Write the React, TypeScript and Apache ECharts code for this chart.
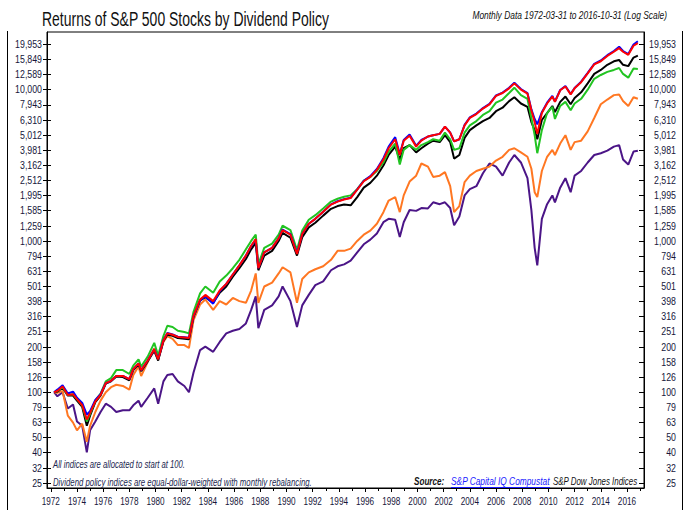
import React, { useEffect, useRef } from "react";
import * as echarts from "echarts";

// Month-end dates as decimal years (sampled from the monthly series)
const dates = [
  1972.25, 1972.5, 1972.9, 1973.3, 1973.7, 1974.0, 1974.4, 1974.75, 1975.0, 1975.4,
  1975.8, 1976.2, 1976.6, 1977.0, 1977.5, 1978.0, 1978.3, 1978.7, 1978.9, 1979.4,
  1979.9, 1980.2, 1980.6, 1980.9, 1981.3, 1981.7, 1982.2, 1982.55, 1982.9, 1983.4,
  1983.8, 1984.4, 1984.9, 1985.4, 1985.9, 1986.4, 1986.9, 1987.3, 1987.65, 1987.85,
  1988.3, 1988.9, 1989.4, 1989.7, 1990.3, 1990.8, 1991.2, 1991.7, 1992.2, 1992.8,
  1993.4, 1993.9, 1994.4, 1994.9, 1995.4, 1995.9, 1996.4, 1996.9, 1997.4, 1997.8,
  1998.3, 1998.65, 1998.95, 1999.4, 1999.9, 2000.3, 2000.8, 2001.2, 2001.7, 2002.1,
  2002.5, 2002.8, 2003.2, 2003.6, 2004.0, 2004.5, 2005.0, 2005.5, 2006.0, 2006.5,
  2007.0, 2007.4, 2007.9, 2008.4, 2008.7, 2008.95, 2009.15, 2009.5, 2009.9, 2010.3,
  2010.5, 2010.9, 2011.3, 2011.7, 2012.0, 2012.5, 2013.0, 2013.5, 2014.0, 2014.5,
  2015.0, 2015.4, 2015.7, 2016.1, 2016.5, 2016.83,
];

const growersInitiators = [
  100, 102, 108, 96, 97, 90, 82, 64, 72, 88,
  98, 118, 124, 140, 140, 132, 150, 165, 148, 172,
  212, 175, 235, 275, 270, 255, 250, 245, 340, 450,
  500, 455, 540, 590, 660, 750, 880, 1000, 1100, 700,
  900, 960, 1100, 1260, 1180, 870, 1170, 1380, 1480, 1640,
  1820, 1900, 1960, 2000, 2200, 2500, 2650, 2900, 3300, 3900,
  4400, 3200, 4000, 4300, 4000, 4300, 4500, 4700, 4600, 5200,
  4700, 4000, 4100, 5200, 5800, 6200, 6800, 7200, 8200, 8600,
  9500, 10300, 9200, 8700, 6500, 5000, 3800, 5400, 7000, 7700,
  6400, 7800, 8300, 7300, 8100, 8700, 10000, 11800, 12500, 13100,
  13500, 13900, 12700, 12000, 13800, 13700,
];

const equalWeighted = [
  100, 104, 111, 98, 101, 92, 85, 71, 75, 89,
  97, 115, 119, 128, 128, 122, 142, 155, 140, 162,
  192, 166, 221, 246, 241, 233, 231, 229, 318, 405,
  430, 385, 465, 520, 600, 690, 800, 925, 1020, 660,
  840, 900, 1040, 1190, 1110, 830, 1110, 1300, 1400, 1560,
  1745, 1830, 1890, 1930, 2190, 2500, 2680, 2990, 3520, 4200,
  4850, 3750, 4650, 5050, 4250, 4650, 4900, 5000, 5100, 5700,
  5200, 4550, 4700, 5850, 6550, 6950, 7550, 8050, 9150, 9550,
  10300, 11100, 10100, 9500, 7400, 6400, 5900, 7100, 8200, 9100,
  8350, 9950, 10550, 9350, 10250, 11300, 12900, 14800, 15600, 16900,
  18000, 19200, 18000, 17200, 19900, 20900,
];

const dividendPayers = [
  100, 102, 109, 96, 97, 90, 82, 66, 73, 87,
  96, 115, 119, 128, 128, 122, 142, 155, 140, 162,
  192, 165, 220, 245, 240, 232, 230, 228, 320, 410,
  440, 400, 470, 520, 600, 690, 800, 930, 1030, 660,
  840, 900, 1040, 1180, 1100, 820, 1110, 1300, 1400, 1560,
  1740, 1820, 1880, 1920, 2180, 2480, 2650, 2950, 3450, 4100,
  4700, 3700, 4600, 4950, 4200, 4600, 4900, 5000, 5100, 5700,
  5200, 4550, 4700, 5800, 6500, 6900, 7500, 8000, 9100, 9500,
  10200, 11000, 10000, 9400, 7300, 6100, 5100, 7000, 8100, 9000,
  8300, 9900, 10500, 9300, 10200, 11200, 12800, 14700, 15400, 16700,
  17800, 18800, 17800, 17000, 19500, 20300,
];

const noChange = [
  100, 101, 107, 95, 95, 88, 80, 60, 70, 86,
  95, 114, 118, 127, 126, 120, 140, 153, 138, 160,
  188, 162, 218, 240, 236, 228, 226, 224, 315, 405,
  425, 390, 455, 500, 580, 660, 760, 880, 970, 640,
  800, 860, 1000, 1130, 1050, 800, 1060, 1230, 1320, 1470,
  1630, 1700, 1740, 1720, 1950, 2250, 2420, 2700, 3150, 3700,
  4200, 3450, 4100, 4300, 3850, 4100, 4400, 4600, 4500, 5000,
  4500, 3500, 3700, 4800, 5400, 5800, 6200, 6500, 7200, 7600,
  8400, 8900, 8100, 7700, 6100, 5400, 4700, 6300, 7000, 7800,
  7100, 8300, 9000, 8000, 8800, 9600, 11000, 12700, 13500, 14600,
  15400, 15700, 14600, 14300, 16300, 16800,
];

const nonPayers = [
  100, 99, 102, 70, 63, 56, 62, 47, 60, 74,
  88, 100, 108, 112, 110, 104, 130, 148, 128, 158,
  195, 165, 215, 235, 225, 205, 205, 196, 300, 380,
  410, 350, 400, 380, 420, 400, 390, 470, 610, 390,
  500, 530, 610, 670, 620, 390, 560, 620, 650, 680,
  750, 860, 860, 890, 1000, 1100, 1170, 1300, 1550, 1850,
  1950, 1550, 2000, 2470, 2700, 3250, 3100, 2650, 2700, 2850,
  2300, 1550, 1700, 2450, 2700, 2900, 3000, 3100, 3400, 3600,
  4000, 4100, 3850, 3600, 3000, 2100, 1950, 2900, 3600, 4000,
  3700, 4400, 5000, 4000, 4500, 4600, 5300, 6500, 8000, 8600,
  9200, 9300, 8400, 7800, 8900, 8700,
];

const cuttersEliminators = [
  100, 94, 100, 78, 83, 64, 60, 40, 56, 64,
  74, 84, 80, 74, 76, 76, 82, 88, 80, 92,
  106, 84, 118, 130, 132, 118, 110, 100, 135, 190,
  200, 185, 215, 245, 255, 262, 285, 350, 430, 265,
  350, 375, 430, 500, 400, 270, 375, 440, 510, 540,
  640, 680, 700, 740, 840, 950, 1020, 1120, 1330, 1400,
  1380, 1060, 1330, 1600, 1580, 1650, 1640, 1800, 1750, 1800,
  1650, 1270, 1450, 2000, 2200, 2300, 2800, 3250, 3100, 2700,
  3300, 3700, 3300, 2600, 1600, 900, 690, 1400, 1750, 2000,
  1800, 2250, 2600, 2100, 2700, 2900, 3300, 3700, 3800, 3950,
  4200, 4300, 3450, 3200, 3900, 3950,
];

const yTickLabels = [
  "25", "32", "40", "50", "63", "79", "100", "126", "158", "200",
  "251", "316", "398", "501", "631", "794", "1,000", "1,259", "1,585", "1,995",
  "2,512", "3,162", "3,981", "5,012", "6,310", "7,943", "10,000", "12,589", "15,849", "19,953",
];
const yTickValues = [
  25.119, 31.623, 39.811, 50.119, 63.096, 79.433, 100, 125.89, 158.49, 199.53,
  251.19, 316.23, 398.11, 501.19, 630.96, 794.33, 1000, 1258.9, 1584.9, 1995.3,
  2511.9, 3162.3, 3981.1, 5011.9, 6309.6, 7943.3, 10000, 12589, 15849, 19953,
];

const xLabelYears = [
  1972, 1974, 1976, 1978, 1980, 1982, 1984, 1986, 1988, 1990, 1992, 1994,
  1996, 1998, 2000, 2002, 2004, 2006, 2008, 2010, 2012, 2014, 2016,
];
const xMinorYears = [
  1973, 1975, 1977, 1979, 1981, 1983, 1985, 1987, 1989, 1991, 1993, 1995,
  1997, 1999, 2001, 2003, 2005, 2007, 2009, 2011, 2013, 2015, 2017,
];

const FONT = "'Liberation Sans', Arial, sans-serif";

const seriesDefs = [
  { name: "Dividend Cutters & Eliminators", color: "#4b1587", values: cuttersEliminators },
  { name: "Dividend Non-Payers", color: "#ff7722", values: nonPayers },
  { name: "No Change in Dividend Policy", color: "#000000", values: noChange },
  { name: "Dividend Growers & Initiators", color: "#22c422", values: growersInitiators },
  { name: "Equal-Weighted", color: "#0000ff", values: equalWeighted },
  { name: "Dividend Payers", color: "#ff0000", values: dividendPayers },
];

const yLog = yTickValues.map((v) => Math.log10(v));

const Y_MIN = 1.367;
const Y_MAX = 4.381;
const X_MIN = 1971.71;
const X_MAX = 2017.3;

const txt = (
  x: number,
  y: number,
  text: string,
  opts: { size: number; sx: number; align?: string; italic?: boolean; bold?: boolean; fill?: string }
) => ({
  type: "text",
  x,
  y,
  z: 50,
  scaleX: opts.sx,
  style: {
    text,
    fontSize: opts.size,
    fontFamily: FONT,
    fontStyle: opts.italic ? "italic" : "normal",
    fontWeight: opts.bold ? "bold" : "normal",
    fill: opts.fill || "#111",
    align: opts.align || "left",
    verticalAlign: "middle",
  },
});

export default function App() {
  const ref = useRef<HTMLDivElement>(null);
  useEffect(() => {
    if (!ref.current) return;
    const chart = echarts.init(ref.current, undefined, { renderer: "svg" });
    const option: any = {
      animation: false,
      backgroundColor: "#ffffff",
      grid: {
        left: 47,
        top: 32,
        right: 49,
        bottom: 22,
        show: true,
        borderColor: "#000",
        borderWidth: 1,
        backgroundColor: "transparent",
      },
      xAxis: [
        {
          type: "value",
          min: X_MIN,
          max: X_MAX,
          position: "bottom",
          axisLine: { show: true, onZero: false, lineStyle: { color: "#000", width: 1 } },
          axisTick: { show: true, length: 4, customValues: xLabelYears, lineStyle: { color: "#000" } },
          axisLabel: { show: false },
          splitLine: { show: false },
        },
        {
          type: "value",
          min: X_MIN,
          max: X_MAX,
          position: "bottom",
          axisLine: { show: false, onZero: false },
          axisTick: { show: true, length: 3, customValues: xMinorYears, lineStyle: { color: "#000" } },
          axisLabel: { show: false },
          splitLine: { show: false },
        },
      ],
      yAxis: [
        {
          type: "value",
          min: Y_MIN,
          max: Y_MAX,
          position: "left",
          axisLine: { show: true, onZero: false, lineStyle: { color: "#000" } },
          axisTick: { show: true, length: 4, customValues: yLog, lineStyle: { color: "#000" } },
          axisLabel: { show: false },
          splitLine: { show: false },
        },
        {
          type: "value",
          min: Y_MIN,
          max: Y_MAX,
          position: "right",
          axisLine: { show: true, onZero: false, lineStyle: { color: "#000" } },
          axisTick: { show: true, inside: true, length: 5, customValues: yLog, lineStyle: { color: "#000" } },
          axisLabel: { show: false },
          splitLine: { show: false },
        },
        {
          type: "value",
          min: Y_MIN,
          max: Y_MAX,
          position: "left",
          axisLine: { show: false, onZero: false },
          axisTick: { show: true, inside: true, length: 4, customValues: yLog, lineStyle: { color: "#000" } },
          axisLabel: { show: false },
          splitLine: { show: false },
        },
      ],
      series: seriesDefs.map((s, k) => ({
        name: s.name,
        type: "line",
        xAxisIndex: 0,
        yAxisIndex: 0,
        showSymbol: false,
        symbol: "none",
        z: 2 + k,
        lineStyle: { color: s.color, width: 2 },
        data: dates.map((d, i) => [d, Math.log10(s.values[i])]),
      })),
    };
    chart.setOption(option);

    const toPx = (x: number, y: number) =>
      chart.convertToPixel({ xAxisIndex: 0, yAxisIndex: 0 }, [x, y]) as number[];

    const labelFill = "#16163a";
    const axisTexts: any[] = [];
    yLog.forEach((v, i) => {
      const py = toPx(X_MIN, v)[1];
      axisTexts.push(txt(42, py, yTickLabels[i], { size: 10, sx: 0.88, align: "right", fill: labelFill }));
      axisTexts.push(txt(676, py, yTickLabels[i], { size: 10, sx: 0.88, align: "right", fill: labelFill }));
    });
    xLabelYears.forEach((yr) => {
      const px = toPx(yr, Y_MIN)[0];
      axisTexts.push(txt(px, 501.5, String(yr), { size: 10, sx: 0.82, align: "center", fill: labelFill }));
    });

    const noteFill = "#1b1f4f";
    chart.setOption({
      graphic: [
        { type: "line", shape: { x1: 7.5, y1: 31, x2: 7.5, y2: 510 }, style: { stroke: "#000", lineWidth: 1 } },
        { type: "line", shape: { x1: 682.5, y1: 31, x2: 682.5, y2: 510 }, style: { stroke: "#000", lineWidth: 1 } },
        txt(42, 19, "Returns of S&P 500 Stocks by Dividend Policy", { size: 21, sx: 0.665 }),
        txt(667, 15, "Monthly Data 1972-03-31 to 2016-10-31 (Log Scale)", { size: 10.5, sx: 0.8, align: "right", italic: true }),
        txt(53, 465, "All indices are allocated to start at 100.", { size: 10, sx: 0.77, italic: true, fill: noteFill }),
        txt(53, 483, "Dividend policy indices are equal-dollar-weighted with monthly rebalancing.", { size: 10, sx: 0.78, italic: true, fill: noteFill }),
        txt(414, 481, "Source:", { size: 11, sx: 0.74, italic: true, bold: true }),
        txt(451, 481, "S&P Capital IQ Compustat", { size: 11, sx: 0.76, italic: true, fill: "#1a1aff" }),
        { type: "line", z: 50, shape: { x1: 451, y1: 487.5, x2: 550, y2: 487.5 }, style: { stroke: "#1a1aff", lineWidth: 1 } },
        txt(553, 481, "S&P Dow Jones Indices", { size: 11, sx: 0.72, italic: true }),
        ...axisTexts,
      ],
    });
    return () => chart.dispose();
  }, []);
  return (
    <div
      ref={ref}
      style={{ position: "fixed", left: 0, top: 0, width: 693, height: 510, background: "#fff" }}
    />
  );
}
